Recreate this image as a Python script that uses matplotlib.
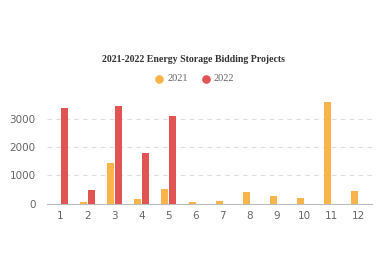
import matplotlib
matplotlib.use('Agg')
import matplotlib.pyplot as plt
import numpy as np

# Monthly bidding volumes
months = ['1', '2', '3', '4', '5', '6', '7', '8', '9', '10', '11', '12']
values_2021 = [0, 50, 1450, 155, 510, 70, 105, 405, 260, 200, 3620, 450]
values_2022 = [3420, 475, 3475, 1810, 3120, 0, 0, 0, 0, 0, 0, 0]

c2021 = '#F9B44C'
c2022 = '#E05454'

fig = plt.figure(figsize=(3.87, 2.8), dpi=100)
ax = fig.add_axes([0.121, 0.273, 0.840, 0.363])

x = np.arange(len(months))
w = 0.26
ax.bar(x - w / 2 - 0.01, values_2021, width=w, color=c2021, zorder=3)
ax.bar(x + w / 2 + 0.01, values_2022, width=w, color=c2022, zorder=3)

ax.set_xlim(-0.5, len(months) - 0.5)
ax.set_ylim(0, 3620)
ax.set_xticks(x)
ax.set_xticklabels(months)
ax.set_yticks([0, 1000, 2000, 3000])
ax.tick_params(axis='both', colors='#666666', labelsize=7.5, length=0)
ax.tick_params(axis='x', pad=5)
ax.tick_params(axis='y', pad=8)
ax.grid(axis='y', linestyle=(0, (4, 4)), color='#dddddd', linewidth=0.8, zorder=0)
for s in ['top', 'right', 'left']:
    ax.spines[s].set_visible(False)
ax.spines['bottom'].set_color('#bbbbbb')

# Title and legend
fig.text(0.5, 0.786, '2021-2022 Energy Storage Bidding Projects', ha='center', va='center',
         fontsize=7.1, fontweight='bold', family='Liberation Serif', color='#333333')
fig.lines.append(plt.Line2D([0.411], [0.718], marker='o', markersize=5.2, color=c2021,
                            transform=fig.transFigure, linestyle='none'))
fig.text(0.434, 0.718, '2021', ha='left', va='center', fontsize=7.5,
         family='Liberation Serif', color='#666666')
fig.lines.append(plt.Line2D([0.532], [0.718], marker='o', markersize=5.2, color=c2022,
                            transform=fig.transFigure, linestyle='none'))
fig.text(0.553, 0.718, '2022', ha='left', va='center', fontsize=7.5,
         family='Liberation Serif', color='#666666')

plt.savefig('out.png', dpi=100)
plt.close(fig)
